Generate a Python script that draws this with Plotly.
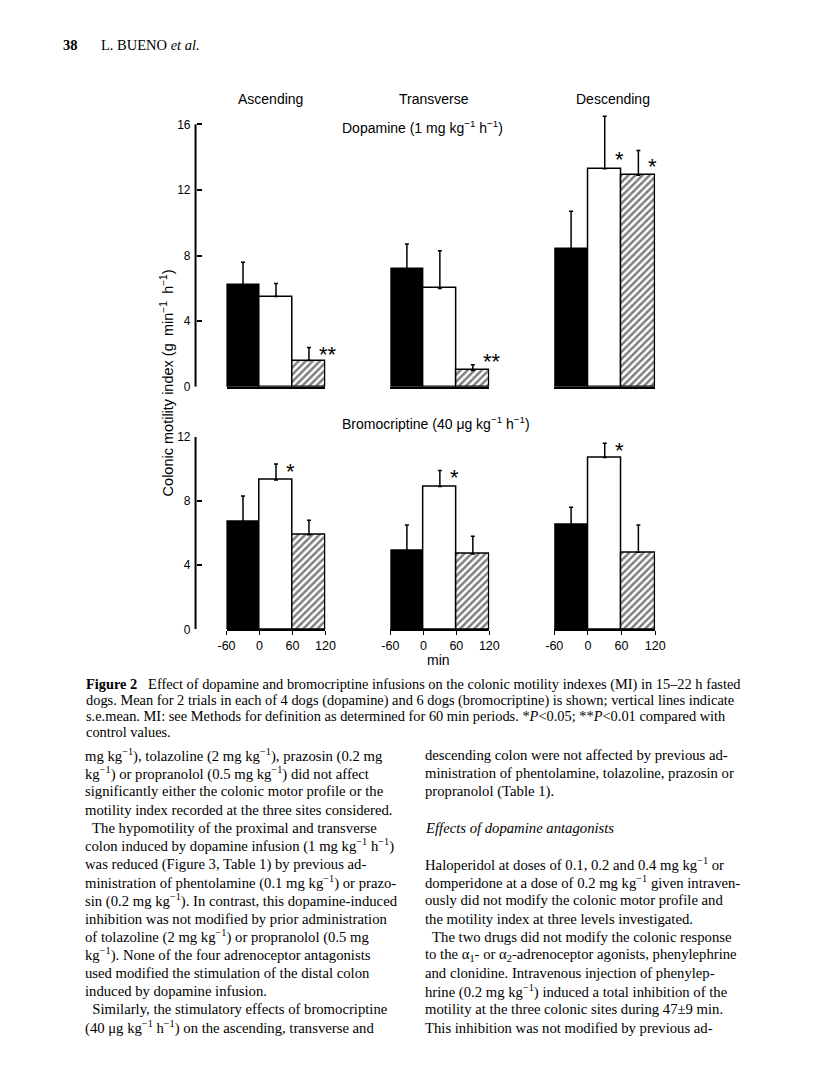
import plotly.graph_objects as go

# ---------------- data ----------------
regions = ["Ascending", "Transverse", "Descending"]
period_start = [-60, 0, 60]          # min, start of each 60-min period
period_ticks = [-60, 0, 60, 120]
period_ticktext = ["-60", "0", "60", "120"]

dopa_mean_asc = [6.2, 5.5, 1.6]
dopa_sem_asc = [1.4, 0.8, 0.8]
dopa_mean_trans = [7.2, 6.0, 1.0]
dopa_sem_trans = [1.5, 2.3, 0.35]
dopa_mean_desc = [8.4, 13.3, 12.9]
dopa_sem_desc = [2.3, 3.2, 1.5]
dopa_signif = [["", "", "**"], ["", "", "**"], ["", "*", "*"]]

bromo_mean_asc = [6.7, 9.3, 5.9]
bromo_sem_asc = [1.6, 1.0, 0.9]
bromo_mean_trans = [4.9, 8.9, 4.7]
bromo_sem_trans = [1.6, 1.0, 1.1]
bromo_mean_desc = [6.5, 10.7, 4.8]
bromo_sem_desc = [1.1, 0.9, 1.7]
bromo_signif = [["", "*", ""], ["", "*", ""], ["", "*", ""]]

dopa_ticks = [0, 4, 8, 12, 16]
bromo_ticks = [0, 4, 8, 12]

# ---------------- layout helpers ----------------
OFF = 8                      # default page margin of the html body
W, H = 800, 1075
SX, OX = 0.977, 10.5         # observed page -> picture mapping
SY, OY = 0.989, 7.5
def fx(px):
    page = (px - OX) / SX
    return (page - OFF) / W
def fy(py):
    page = (py - OY) / SY
    return 1 - (page - OFF) / H

col_px = [(228, 327), (392, 491), (556, 657)]
top_zero, top_16 = 388, 125
unit_top = (top_zero - top_16) / 16.0
top_dom = [fy(top_zero), fy(top_zero - 17 * unit_top)]
bot_zero, bot_12 = 631, 438
bot_dom = [fy(bot_zero), fy(bot_12)]
yaxis_px = 197

SANS = "Liberation Sans, Arial, sans-serif"
SERIF = "Liberation Serif, Times New Roman, serif"

fig = go.Figure()

fills = [
    dict(color="black", line=dict(color="black", width=1.5)),
    dict(color="white", line=dict(color="black", width=1.5)),
    dict(color="white", line=dict(color="black", width=1.5),
         pattern=dict(shape="/", fgcolor="black", bgcolor="white", size=5, solidity=0.5)),
]

dopa_means = [dopa_mean_asc, dopa_mean_trans, dopa_mean_desc]
dopa_sems = [dopa_sem_asc, dopa_sem_trans, dopa_sem_desc]
bromo_means = [bromo_mean_asc, bromo_mean_trans, bromo_mean_desc]
bromo_sems = [bromo_sem_asc, bromo_sem_trans, bromo_sem_desc]

# vertical nudges (px) of the significance stars
star_shift = {(2, 2): 3, (3, 1): 9, (3, 2): -16}

annotations = []

def add_panel(idx, means, sems, signif):
    xa = "x" if idx == 1 else f"x{idx}"
    ya = "y" if idx == 1 else f"y{idx}"
    for k in range(3):
        fig.add_trace(go.Bar(
            x=[period_start[k] + 30], y=[means[k]], width=[60],
            marker=fills[k],
            error_y=dict(type="data", symmetric=False, array=[sems[k]], arrayminus=[0],
                         color="black", thickness=1.5, width=2),
            xaxis=xa, yaxis=ya, showlegend=False, hoverinfo="skip"))
        if signif[k]:
            ys = means[k] if (idx, k) == (3, 1) else means[k] + sems[k]
            annotations.append(dict(
                x=period_start[k] + 30, y=ys, xref=xa, yref=ya,
                text=signif[k], showarrow=False, xanchor="left", yanchor="middle",
                xshift=8, yshift=star_shift.get((idx, k), -7),
                font=dict(family=SANS, size=22, color="black")))

for c in range(3):
    add_panel(c + 1, dopa_means[c], dopa_sems[c], dopa_signif[c])
for c in range(3):
    add_panel(c + 4, bromo_means[c], bromo_sems[c], bromo_signif[c])

layout = dict(width=W, height=H, margin=dict(l=0, r=0, t=0, b=0),
              paper_bgcolor="white", plot_bgcolor="rgba(0,0,0,0)",
              bargap=0, showlegend=False)

for i in range(1, 7):
    c = (i - 1) % 3
    top = i <= 3
    xkey = "xaxis" if i == 1 else f"xaxis{i}"
    ykey = "yaxis" if i == 1 else f"yaxis{i}"
    layout[xkey] = dict(domain=[fx(col_px[c][0]), fx(col_px[c][1])], range=[-60, 120],
                        anchor="y" if i == 1 else f"y{i}",
                        showgrid=False, zeroline=False,
                        showline=True, linecolor="black", linewidth=1.5,
                        tickvals=period_ticks, ticktext=period_ticktext,
                        ticks="" if top else "outside", ticklen=4, tickwidth=1.2, tickcolor="black",
                        showticklabels=not top,
                        tickfont=dict(family=SANS, size=12.5, color="black"),
                        fixedrange=True)
    ydict = dict(domain=top_dom if top else bot_dom,
                 range=[0, 17] if top else [0, 12],
                 anchor="x" if i == 1 else f"x{i}",
                 showgrid=False, zeroline=False, fixedrange=True)
    if c == 0:
        ydict.update(anchor="free", position=fx(yaxis_px), showline=False,
                     tickvals=dopa_ticks if top else bromo_ticks,
                     ticks="inside", ticklen=5, tickwidth=1.5, tickcolor="black",
                     ticklabelstandoff=5,
                     tickfont=dict(family=SANS, size=12, color="black"))
    else:
        ydict.update(visible=False)
    layout[ykey] = ydict

fig.update_layout(**layout)

# y-axis lines (drawn over the exact tick range)
fig.add_shape(type="line", xref="paper", yref="y", x0=fx(yaxis_px), x1=fx(yaxis_px),
              y0=dopa_ticks[0], y1=dopa_ticks[-1], line=dict(color="black", width=2))
fig.add_shape(type="line", xref="paper", yref="y4", x0=fx(yaxis_px), x1=fx(yaxis_px),
              y0=bromo_ticks[0], y1=bromo_ticks[-1], line=dict(color="black", width=2))

def txt(x, y, s, size=13, family=SANS, xanchor="center", angle=0, **kw):
    annotations.append(dict(x=fx(x), y=fy(y), xref="paper", yref="paper", text=s,
                            showarrow=False, xanchor=xanchor, yanchor="middle",
                            textangle=angle, font=dict(family=family, size=size, color="black"),
                            **kw))

SP = "\u2002"
# figure labels
txt(272, 100, regions[0], 14)
txt(436, 100, regions[1], 14)
txt(615, 100, regions[2], 14)
txt(424, 128, "Dopamine (1 mg kg<sup>−1</sup> h<sup>−1</sup>)", 14)
txt(438, 424, "Bromocriptine (40 μg kg<sup>−1</sup> h<sup>−1</sup>)", 14)
txt(168, 384, f"Colonic motility index (g{SP}min<sup>−1</sup>{SP}h<sup>−1</sup>)", 14.5, angle=-90)
txt(440, 662, "min", 14)

# page header
txt(62, 45, "<b>38</b>", 14.5, SERIF, xanchor="left")
txt(100, 45, "L. BUENO <i>et al.</i>", 14.5, SERIF, xanchor="left")

# caption
cap = [
    "<b>Figure 2</b>   Effect of dopamine and bromocriptine infusions on the colonic motility indexes (MI) in 15–22 h fasted",
    "dogs. Mean for 2 trials in each of 4 dogs (dopamine) and 6 dogs (bromocriptine) is shown; vertical lines indicate",
    "s.e.mean. MI: see Methods for definition as determined for 60 min periods. *<i>P</i><0.05; **<i>P</i><0.01 compared with",
    "control values.",
]
for i, s in enumerate(cap):
    txt(85, 686 + 16 * i, s, 14.4, SERIF, xanchor="left")

left_col = [
    "mg kg<sup>−1</sup>), tolazoline (2 mg kg<sup>−1</sup>), prazosin (0.2 mg",
    "kg<sup>−1</sup>) or propranolol (0.5 mg kg<sup>−1</sup>) did not affect",
    "significantly either the colonic motor profile or the",
    "motility index recorded at the three sites considered.",
    "  The hypomotility of the proximal and transverse",
    "colon induced by dopamine infusion (1 mg kg<sup>−1</sup> h<sup>−1</sup>)",
    "was reduced (Figure 3, Table 1) by previous ad-",
    "ministration of phentolamine (0.1 mg kg<sup>−1</sup>) or prazo-",
    "sin (0.2 mg kg<sup>−1</sup>). In contrast, this dopamine-induced",
    "inhibition was not modified by prior administration",
    "of tolazoline (2 mg kg<sup>−1</sup>) or propranolol (0.5 mg",
    "kg<sup>−1</sup>). None of the four adrenoceptor antagonists",
    "used modified the stimulation of the distal colon",
    "induced by dopamine infusion.",
    "  Similarly, the stimulatory effects of bromocriptine",
    "(40 μg kg<sup>−1</sup> h<sup>−1</sup>) on the ascending, transverse and",
]
for i, s in enumerate(left_col):
    txt(84, 757 + 18.2 * i, s, 14.7, SERIF, xanchor="left")

right_col = [
    (0, "descending colon were not affected by previous ad-"),
    (1, "ministration of phentolamine, tolazoline, prazosin or"),
    (2, "propranolol (Table 1)."),
    (4, "<i>Effects of dopamine antagonists</i>"),
    (6, "Haloperidol at doses of 0.1, 0.2 and 0.4 mg kg<sup>−1</sup> or"),
    (7, "domperidone at a dose of 0.2 mg kg<sup>−1</sup> given intraven-"),
    (8, "ously did not modify the colonic motor profile and"),
    (9, "the motility index at three levels investigated."),
    (10, "  The two drugs did not modify the colonic response"),
    (11, "to the α<sub>1</sub>- or α<sub>2</sub>-adrenoceptor agonists, phenylephrine"),
    (12, "and clonidine. Intravenous injection of phenylep-"),
    (13, "hrine (0.2 mg kg<sup>−1</sup>) induced a total inhibition of the"),
    (14, "motility at the three colonic sites during 47±9 min."),
    (15, "This inhibition was not modified by previous ad-"),
]
for i, s in right_col:
    txt(425, 757 + 18.2 * i, s, 14.7, SERIF, xanchor="left")

fig.update_layout(annotations=annotations)
fig.write_html("out.html")
